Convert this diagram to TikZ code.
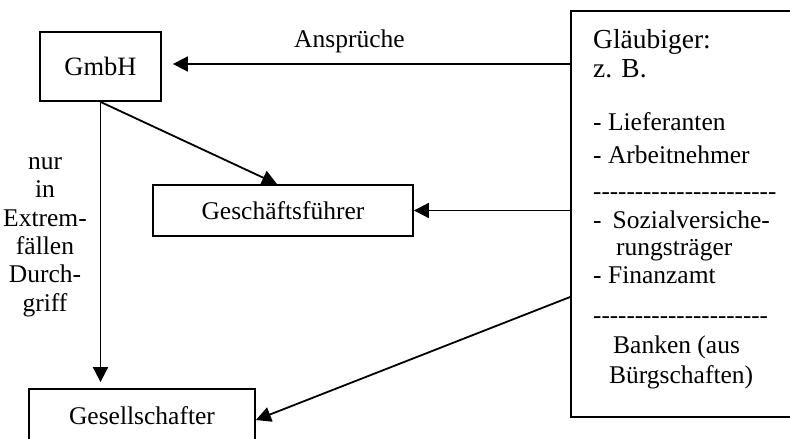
\documentclass[tikz,border=0pt]{standalone}
\usepackage{fontspec}
\setmainfont{Liberation Serif}
\usetikzlibrary{arrows.meta}
\def\hy{-\kern0pt}
\def\hyten{\hy\hy\hy\hy\hy\hy\hy\hy\hy\hy}
\begin{document}
\begin{tikzpicture}[x=1pt,y=-1pt,
  every node/.style={font=\fontsize{25.5}{30}\selectfont},
  big/.style={font=\fontsize{27.5}{32}\selectfont},
  box/.style={draw, line width=1.8pt, inner sep=0pt, rectangle},
  txt/.style={inner sep=0pt, anchor=base west},
  arr/.style={line width=1.8pt, -{Triangle[length=15pt,width=15pt]}}]
\useasboundingbox (0,0) rectangle (790,439);
\node[box, minimum width=121pt, minimum height=69pt, font=\fontsize{26.5}{30}\selectfont] (gmbh) at (100.5,66.5) {GmbH};
\node[box, minimum width=260pt, minimum height=51pt] (gf) at (283,210.5) {Geschäftsführer};
\node[box, minimum width=226pt, minimum height=54pt] (gesell) at (142,416) {Gesellschafter};
\node[box, minimum width=224pt, minimum height=406pt] (glaub) at (683,214) {};
\node[txt, big] (g1) at (593,48) {Gläubiger:};
\node[txt, big] (g2) at (593,77) {z. B.};
\node[txt] (g3) at (593,130) {- Lieferanten};
\node[txt] (g4) at (593,163) {- Arbeitnehmer};
\node[txt, font=\fontsize{25}{30}\selectfont] (g5) at (593,199.5) {\hyten\hyten\hy\hy};
\node[txt] (g6) at (593,228) {-\hspace{11pt}Sozialversiche-};
\node[txt] (g7) at (616,255) {rungsträger};
\node[txt] (g8) at (593,283) {- Finanzamt};
\node[txt, font=\fontsize{25}{30}\selectfont] (g9) at (593,323.5) {\hyten\hyten\hy};
\node[txt] (g10) at (613,353) {Banken (aus};
\node[txt] (g11) at (609,383) {Bürgschaften)};
\node[txt] (anspr) at (294,47) {Ansprüche};
\node[align=center, anchor=base, inner sep=0pt, font=\fontsize{25.5}{28.3}\selectfont] (lab) at (45,311) {nur\\in\\Extrem-\\fällen\\Durch-\\griff};
\coordinate (a1) at ([yshift=2.5pt]gmbh.east);
\draw[arr, shorten >=11pt] (glaub.west |- a1) -- (a1);
\draw[arr] (glaub.west |- gf.east) -- (gf.east);
\draw[arr] (gmbh.south) -- ([xshift=-6pt]gf.north);
\draw[arr, shorten >=6pt] (gmbh.south) -- (gmbh.south |- gesell.north);
\draw[arr] ([yshift=-83pt]glaub.west) -- ([yshift=-4pt]gesell.east);
\end{tikzpicture}
\end{document}
